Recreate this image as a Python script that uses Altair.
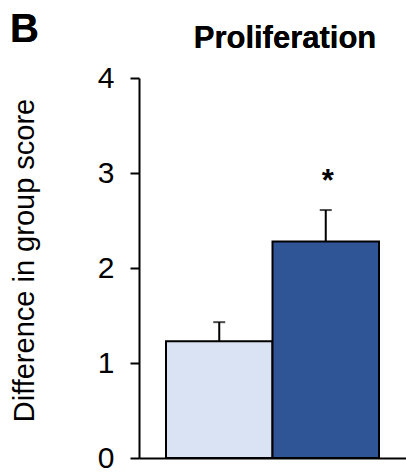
import altair as alt
import pandas as pd

# Group means with their standard errors
groups = ["Group 1", "Group 2"]
means = [1.23, 2.28]
errors = [0.20, 0.33]
fills = ["#DAE3F3", "#2F5597"]
marks = ["", "*"]

df = pd.DataFrame({
    "group": groups,
    "mean": means,
    "err": errors,
    "fill": fills,
    "mark": marks,
})
df["top"] = df["mean"] + df["err"]

FONT = "Liberation Sans"

x = alt.X(
    "group:N",
    sort=groups,
    scale=alt.Scale(paddingInner=0, paddingOuter=0.2535),
    axis=alt.Axis(
        title=None, labels=False, ticks=False,
        domainColor="black", domainWidth=2,
    ),
)
y_scale = alt.Scale(domain=[0, 4], nice=False)

bars = alt.Chart(df).mark_bar(stroke="black", strokeWidth=2).encode(
    x=x,
    y=alt.Y(
        "mean:Q",
        scale=y_scale,
        axis=alt.Axis(
            title="Difference in group score",
            values=[0, 1, 2, 3, 4],
            format="d",
            grid=False,
            domainColor="black", domainWidth=2,
            tickColor="black", tickWidth=2, tickSize=9,
            labelFont=FONT, labelFontSize=30, labelColor="black",
            labelPadding=16,
            titleFont=FONT, titleFontSize=29, titleFontWeight="normal",
            titleColor="black",
            titleAngle=270, titleBaseline="alphabetic", titleAlign="center",
            titleX=-106, titleY=182,
        ),
    ),
    fill=alt.Fill("fill:N", scale=None),
)

err_line = alt.Chart(df).mark_rule(color="black", strokeWidth=2).encode(
    x=x, y=alt.Y("mean:Q", scale=y_scale), y2="top:Q"
)

err_cap = alt.Chart(df).mark_tick(color="black", thickness=2, size=12).encode(
    x=x, y=alt.Y("top:Q", scale=y_scale)
)

stars = alt.Chart(df).mark_text(
    font=FONT, fontSize=31, fontWeight="bold", baseline="alphabetic",
    dy=-19, dx=2, color="black",
).encode(x=x, y=alt.Y("top:Q", scale=y_scale), text="mark:N")

# Panel letter and panel heading
panel = alt.Chart(df).mark_text(
    text="B", font=FONT, fontSize=40, fontWeight="bold",
    align="left", baseline="alphabetic", color="black",
).encode(x=alt.value(-129), y=alt.value(-36))

heading = alt.Chart(df).mark_text(
    text="Proliferation", font=FONT, fontSize=31, fontWeight="bold",
    align="center", baseline="alphabetic", color="black",
).encode(x=alt.value(146), y=alt.value(-30))

chart = alt.layer(bars, err_line, err_cap, stars, panel, heading).properties(
    width=267,
    height=380,
    padding={"left": 139, "top": 78, "right": 0, "bottom": 14},
    autosize=alt.AutoSizeParams(type="none"),
).configure_view(stroke=None)

chart.save("out.html", embed_options={"renderer": "svg", "actions": False})
